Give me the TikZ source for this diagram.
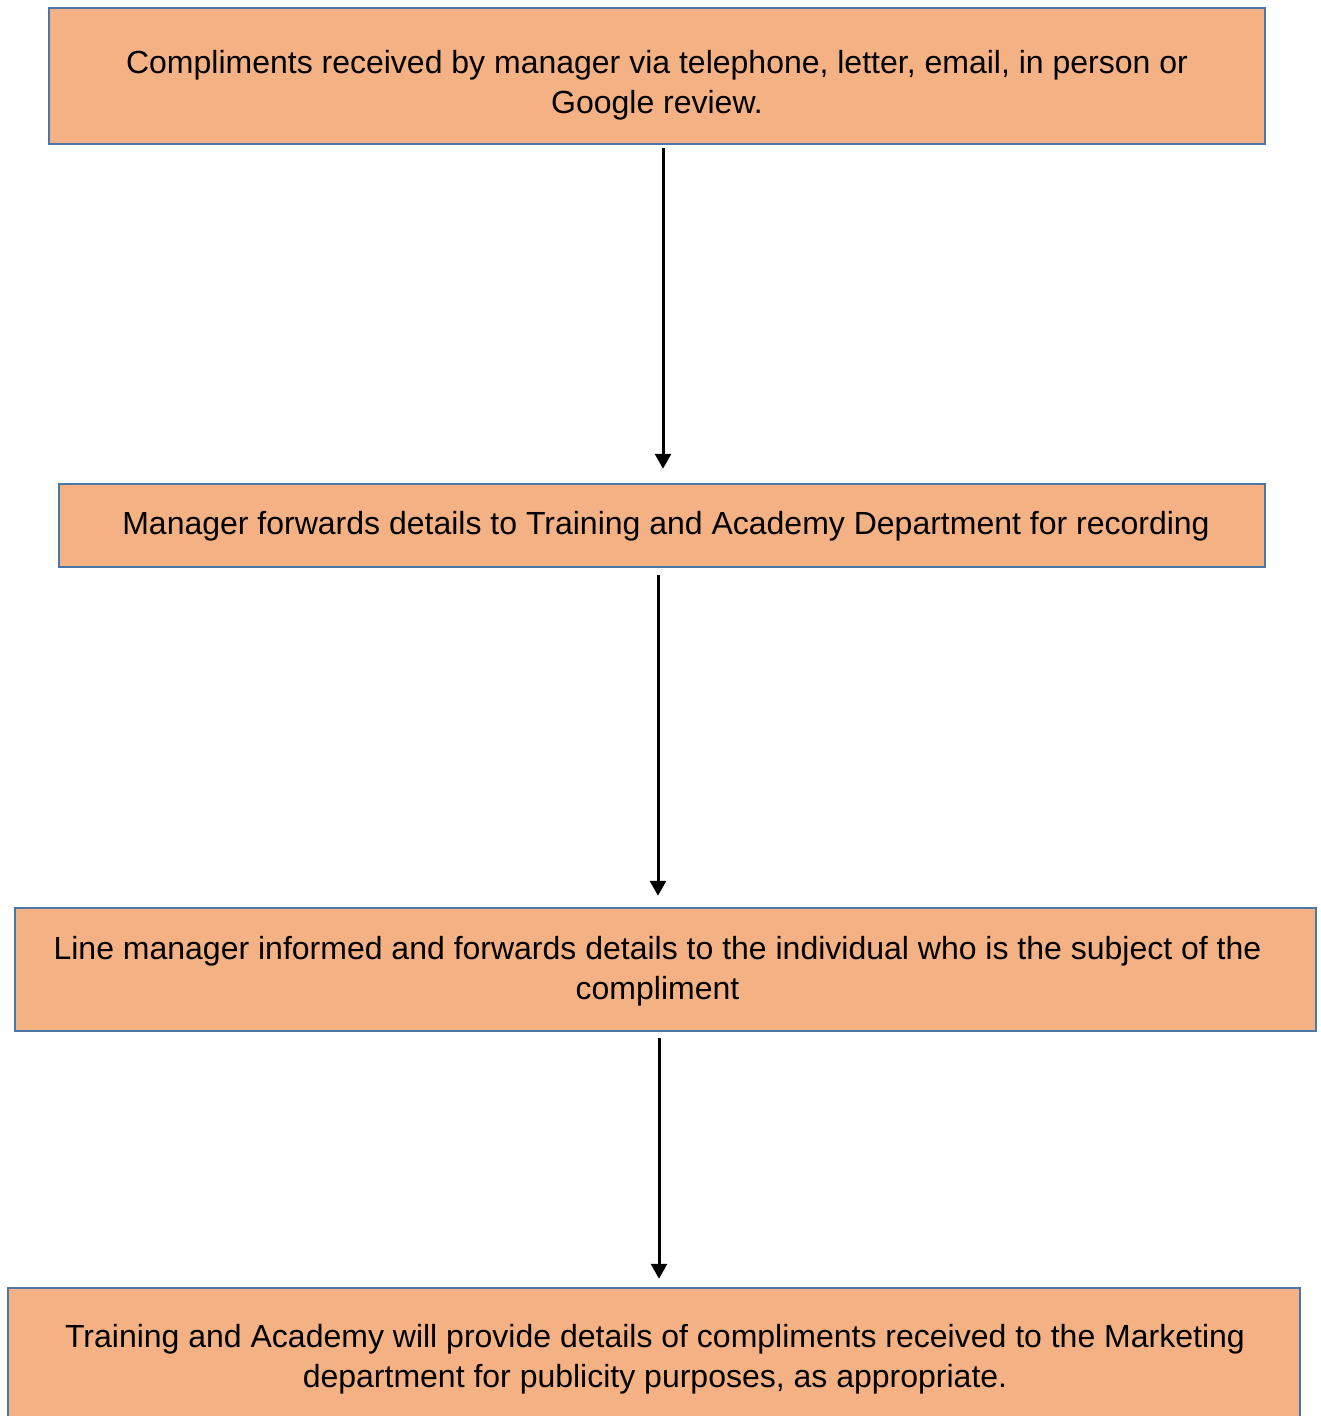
\documentclass[tikz,border=0pt]{standalone}
\usepackage{fontspec}
\setmainfont{Liberation Sans}
\usetikzlibrary{arrows.meta}
\definecolor{boxfill}{HTML}{F4B183}
\definecolor{boxline}{HTML}{4A76A8}
\begin{document}
\begin{tikzpicture}[x=1pt,y=1pt,
  box/.style={draw=boxline,fill=boxfill,line width=2.5pt,rectangle,inner sep=0pt,
    align=center,font=\fontsize{32}{40}\selectfont},
  boxtext/.style={inner sep=0pt,align=center,font=\fontsize{32}{40}\selectfont},
  arr/.style={line width=3pt,-{Triangle[length=15pt,width=16pt]}}]
\useasboundingbox (0,0) rectangle (1320,-1416);
\begin{scope}
\clip (0,0) rectangle (1320,-1416);
\node[box,minimum width=1216pt,minimum height=136pt] (b1) at (657,-76) {};
\node[box,minimum width=1206pt,minimum height=83pt] (b2) at (662,-525.5) {};
\node[box,minimum width=1301pt,minimum height=123pt] (b3) at (665.5,-969.5) {};
\node[box,minimum width=1292pt,minimum height=136pt] (b4) at (654,-1356) {};
\end{scope}
\node[boxtext] (t1) at ([yshift=-9]b1.center)
  {Compliments received by manager via telephone, letter, email, in person or\\Google review.};
\node[boxtext] (t2) at ([shift={(4,-1)}]b2.center)
  {Manager forwards details to Training and Academy Department for recording};
\node[boxtext] (t3) at ([shift={(-8,-2)}]b3.center)
  {Line manager informed and forwards details to the individual who is the subject of the\\compliment};
\node[boxtext] (t4) at ([shift={(1,-3)}]b4.center)
  {Training and Academy will provide details of compliments received to the Marketing\\department for publicity purposes, as appropriate.};
\draw[arr] ([shift={(6,-3)}]b1.south) -- ([shift={(1,14)}]b2.north);
\draw[arr] ([shift={(-4,-7)}]b2.south) -- ([shift={(-7.5,11)}]b3.north);
\draw[arr] ([shift={(-6.5,-6)}]b3.south) -- ([shift={(5,8)}]b4.north);
\end{tikzpicture}
\end{document}
